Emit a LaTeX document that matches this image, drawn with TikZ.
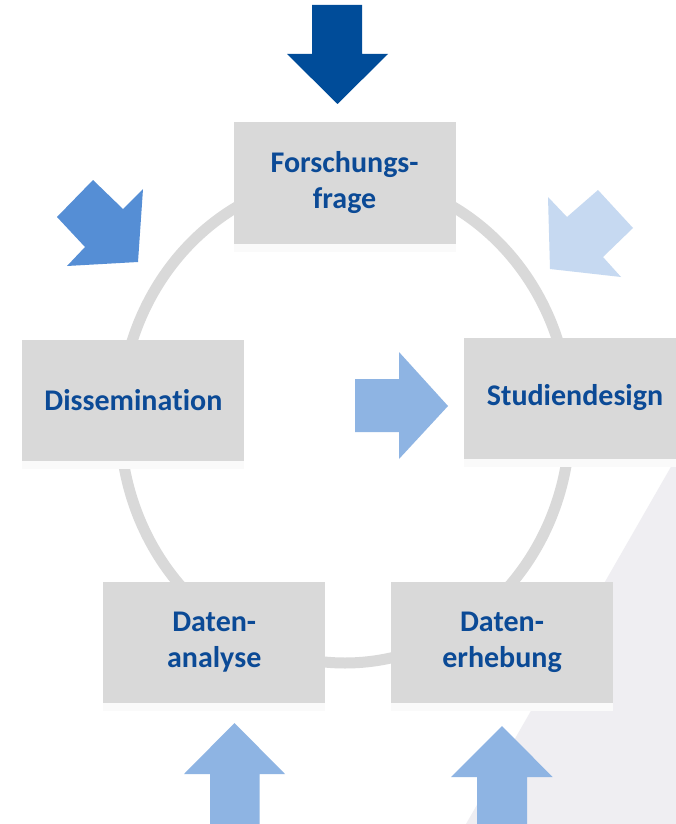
\documentclass[tikz,border=0pt]{standalone}
\usepackage{fontspec}
\setmainfont{Carlito}[RawFeature={-liga;-clig;-dlig;-calt}]
\usetikzlibrary{shadows}
\definecolor{boxgray}{RGB}{217,217,217}
\definecolor{ringgray}{RGB}{217,217,217}
\definecolor{txtblue}{RGB}{11,74,150}
\definecolor{darkarrow}{RGB}{0,76,153}
\definecolor{midarrow}{RGB}{85,142,213}
\definecolor{lightarrow}{RGB}{198,217,241}
\definecolor{paleblue}{RGB}{142,180,227}
\definecolor{bgshape}{RGB}{239,238,242}
\tikzset{
  stagebox/.style={fill=boxgray, draw=none, minimum width=222pt, minimum height=121pt,
    inner sep=0pt, align=center, text=txtblue,
    font=\fontsize{30}{36}\selectfont\bfseries,
    general shadow={fill=black!2, shadow yshift=-8pt}}
}
\begin{document}
\begin{tikzpicture}[x=1pt,y=-1pt]
\useasboundingbox (0,0) rectangle (676,824);
\fill[white] (0,0) rectangle (676,824);
% background shape
\fill[bgshape] (676,458) -- (466,824) -- (676,824) -- cycle;
% ring
\draw[ringgray, line width=11pt] (345,420) ellipse [x radius=225, y radius=243];
% boxes
\node[stagebox] (ff) at (344.6,183) {Forschungs-\\frage};
\node[stagebox] (diss) at (133.4,400) {Dissemina\kern0pt tion};
\node[stagebox] (stud) at (575,398) {Studiendesign};
\node[stagebox, minimum width=221.6pt] (ana) at (214.2,642) {Daten-\\analyse};
\node[stagebox] (erh) at (502,642) {Daten-\\erhebung};
% arrows
\fill[darkarrow] (312,5) -- (362,5) -- (362,54) -- (388,54) -- (337.5,104) -- (287,54) -- (312,54) -- cycle;
\fill[midarrow] (93,180) -- (123,209) -- (143,189) -- (138,262) -- (67,266) -- (85,247) -- (57,217) -- cycle;
\fill[lightarrow] (598,190) -- (633,228) -- (603,257) -- (621,277) -- (550,269) -- (548,197) -- (567,217) -- cycle;
\fill[paleblue] (355,379) -- (399,379) -- (399,352) -- (448,406) -- (399,459) -- (399,432) -- (355,432) -- cycle;
\fill[paleblue] (210,830) -- (210,774) -- (184,774) -- (234.5,723) -- (285,774) -- (259.5,774) -- (259.5,830) -- cycle;
\fill[paleblue] (477,830) -- (477,777) -- (451,777) -- (502,726) -- (552.6,777) -- (527,777) -- (527,830) -- cycle;
\end{tikzpicture}
\end{document}
